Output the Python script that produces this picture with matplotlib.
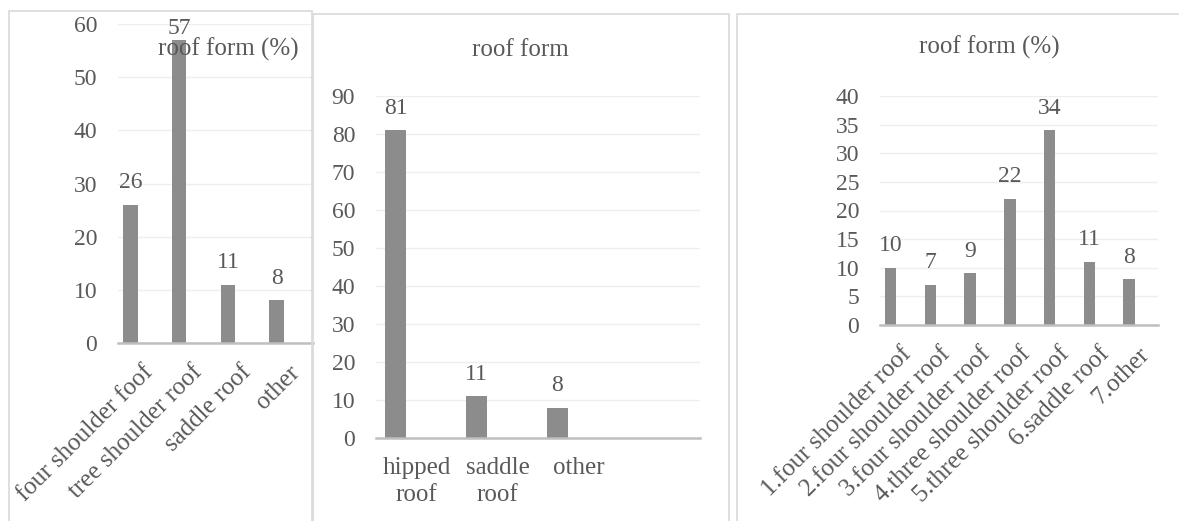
import numpy as np
import matplotlib
matplotlib.use('Agg')
import matplotlib.pyplot as plt
from matplotlib.patches import Rectangle

# Data
cats1 = ['four shoulder foof', 'tree shoulder roof', 'saddle roof', 'other']
vals1 = [26, 57, 11, 8]

cats2 = ['hipped\nroof', 'saddle\nroof', 'other']
vals2 = [81, 11, 8]

cats3 = ['1.four shoulder roof', '2.four shoulder roof', '3.four shoulder roof',
         '4.three shoulder roof', '5.three shoulder roof', '6.saddle roof', '7.other']
vals3 = [10, 7, 9, 22, 34, 11, 8]

titles = ['roof form (%)', 'roof form', 'roof form (%)']

# Style
plt.rcParams['font.family'] = ['Liberation Serif', 'DejaVu Serif']
TXT = '#595959'
BAR = '#8c8c8c'
GRID = '#eeeeee'
AXL = '#bfbfbf'
FRAME = '#d9d9d9'
FS = 17     # numbers
FSX = 18    # category labels / titles

W, H = 1179, 521
fig = plt.figure(figsize=(W / 100, H / 100), dpi=100)
fig.patch.set_facecolor('white')


def px_axes(l, t, r, b):
    return fig.add_axes([l / W, 1 - b / H, (r - l) / W, (b - t) / H])


def frame(l, t, r, b):
    fig.add_artist(Rectangle((l / W, 1 - b / H), (r - l) / W, (b - t) / H,
                             transform=fig.transFigure, fill=False,
                             edgecolor=FRAME, lw=1.2, zorder=0.5))


def style(ax, ymax, step):
    for s in ['top', 'right', 'left']:
        ax.spines[s].set_visible(False)
    ax.spines['bottom'].set_color(AXL)
    ax.spines['bottom'].set_linewidth(1.8)
    ax.set_ylim(0, ymax)
    ax.set_yticks(np.arange(0, ymax + 0.1, step))
    ax.yaxis.grid(True, color=GRID, lw=1.0)
    ax.set_axisbelow(True)
    ax.tick_params(axis='y', length=0, pad=15, labelsize=FS, labelcolor=TXT)
    ax.tick_params(axis='x', length=0, labelsize=FSX, labelcolor=TXT)
    ax.patch.set_alpha(0)


def labels(ax, xs, vals, ymax):
    for x, v in zip(xs, vals):
        if v > ymax * 0.9:
            # label pushed inside the plot area, like Excel does
            ax.annotate(str(v), (x, ymax), xytext=(0, 4), textcoords='offset points',
                        ha='center', va='top', fontsize=FS, color=TXT)
        else:
            ax.annotate(str(v), (x, v), xytext=(0, 12), textcoords='offset points',
                        ha='center', va='baseline', fontsize=FS, color=TXT)


# frames
frame(9, 11, 312, 540)
frame(313, 14, 729, 540)
frame(737, 14, 1200, 540)

# Panel 1
ax1 = px_axes(118, 24, 313, 343)
x1 = np.arange(len(cats1))
b1 = x1 - 0.245
ax1.bar(b1, vals1, width=0.3, color=BAR, zorder=2)
style(ax1, 60, 10)
ax1.set_xlim(-0.5, len(cats1) - 0.5)
ax1.set_xticks(x1)
ax1.set_xticklabels(cats1, rotation=45, ha='right', va='top', rotation_mode='anchor')
ax1.tick_params(axis='x', pad=13)
labels(ax1, b1, vals1, 60)
fig.text(228 / W, 1 - 49 / H, titles[0], ha='center', va='center', fontsize=FSX, color=TXT)

# Panel 2
ax2 = px_axes(376, 96, 700, 438)
x2 = np.arange(len(cats2))
b2 = x2 - 0.26
ax2.bar(b2, vals2, width=0.255, color=BAR, zorder=2)
style(ax2, 90, 10)
ax2.set_xlim(-0.5, len(cats2) + 0.5)
ax2.set_xticks(x2)
ax2.set_xticklabels(cats2, ha='center', va='top', linespacing=1.25)
ax2.tick_params(axis='x', pad=14)
labels(ax2, b2, vals2, 90)
fig.text(520 / W, 1 - 50 / H, titles[1], ha='center', va='center', fontsize=FSX, color=TXT)

# Panel 3
ax3 = px_axes(880, 96, 1158, 325)
x3 = np.arange(len(cats3))
b3 = x3 - 0.23
ax3.bar(b3, vals3, width=0.29, color=BAR, zorder=2)
style(ax3, 40, 5)
ax3.set_xlim(-0.5, len(cats3) - 0.5)
ax3.set_xticks(x3)
ax3.set_xticklabels(cats3, rotation=45, ha='right', va='top', rotation_mode='anchor')
ax3.tick_params(axis='x', pad=13)
labels(ax3, b3, vals3, 40)
fig.text(989 / W, 1 - 47 / H, titles[2], ha='center', va='center', fontsize=FSX, color=TXT)

fig.savefig('out.png', dpi=100)
